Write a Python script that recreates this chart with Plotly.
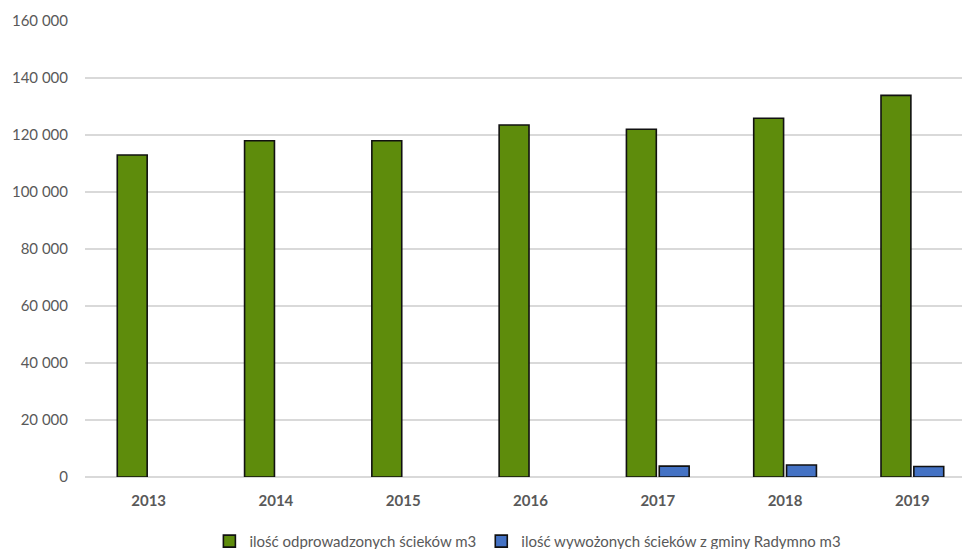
import plotly.graph_objects as go

years = ["2013", "2014", "2015", "2016", "2017", "2018", "2019"]
odprowadzone = [113000, 118000, 118000, 123500, 122000, 125900, 133900]
wywozone = [None, None, None, None, 3800, 4200, 3700]

series_names = [
    "ilość odprowadzonych ścieków m3",
    "ilość wywożonych ścieków z gminy Radymno m3",
]
y_ticks = [0, 20000, 40000, 60000, 80000, 100000, 120000, 140000, 160000]

font_family = "Lato, Open Sans, sans-serif"
text_gray = "#595959"

fig = go.Figure()
fig.add_trace(go.Bar(
    x=years, y=odprowadzone, name=series_names[0],
    marker=dict(color="#5e8c0c", line=dict(color="#111111", width=1.6)),
))
fig.add_trace(go.Bar(
    x=years, y=wywozone, name=series_names[1],
    marker=dict(color="#4472c4", line=dict(color="#111111", width=1.6)),
))

fig.update_layout(
    width=962, height=549,
    margin=dict(l=85, r=0, t=21, b=72, autoexpand=False),
    paper_bgcolor="white", plot_bgcolor="white",
    barmode="group", bargap=0.484, bargroupgap=0.09,
    separators=", ",
    font=dict(family=font_family, color=text_gray, size=13),
    showlegend=True,
    legend=dict(
        orientation="h", x=0.505, xanchor="center",
        y=-0.105, yanchor="top",
        font=dict(size=15, color=text_gray), itemwidth=30,
        traceorder="normal", tracegroupgap=0,
    ),
    xaxis=dict(
        type="category", range=[-0.5, 6.39],
        showgrid=False, showline=False, zeroline=False,
        ticks="", ticklabelstandoff=13,
        tickfont=dict(size=15, color=text_gray, family=font_family, weight="bold"),
    ),
    yaxis=dict(
        range=[0, 160000], tickvals=y_ticks, tickformat=",d",
        showgrid=True, gridcolor="#d9d9d9", gridwidth=1.5,
        zeroline=True, zerolinecolor="#d9d9d9", zerolinewidth=1.5,
        showline=False, ticks="", ticklabelstandoff=16,
        tickfont=dict(size=15, color=text_gray),
    ),
)

fig.write_html("out.html")
